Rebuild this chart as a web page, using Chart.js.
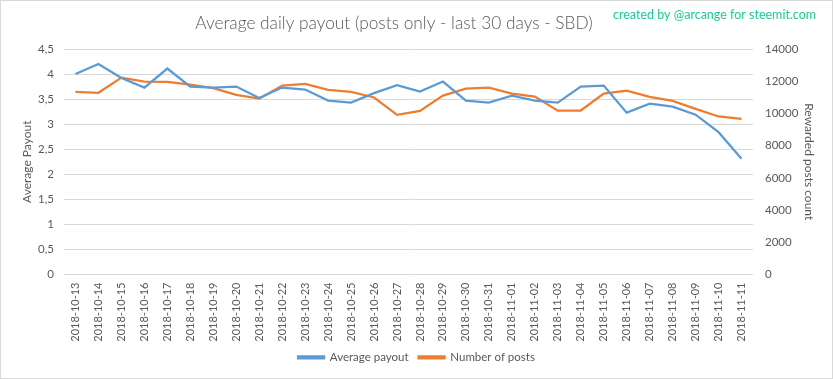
<!DOCTYPE html>
<html>
<head>
<meta charset="utf-8">
<script src="https://cdn.jsdelivr.net/npm/chart.js@4"></script>
<style>
    body { margin: 0; background: #fff; }
    canvas { display: block; }
</style>
</head>
<body>
<canvas id="chart-line" width="833" height="379"></canvas>
<script>
// data
const days = [
    "2018-10-13", "2018-10-14", "2018-10-15", "2018-10-16", "2018-10-17", "2018-10-18",
    "2018-10-19", "2018-10-20", "2018-10-21", "2018-10-22", "2018-10-23", "2018-10-24",
    "2018-10-25", "2018-10-26", "2018-10-27", "2018-10-28", "2018-10-29", "2018-10-30",
    "2018-10-31", "2018-11-01", "2018-11-02", "2018-11-03", "2018-11-04", "2018-11-05",
    "2018-11-06", "2018-11-07", "2018-11-08", "2018-11-09", "2018-11-10", "2018-11-11"
];
const avgPayout = [
    4.00, 4.20, 3.92, 3.73, 4.11, 3.75, 3.73, 3.75, 3.52, 3.73,
    3.69, 3.47, 3.43, 3.62, 3.78, 3.65, 3.85, 3.47, 3.43, 3.57,
    3.47, 3.43, 3.75, 3.77, 3.23, 3.41, 3.35, 3.19, 2.84, 2.31
];
const postCount = [
    11340, 11280, 12220, 11980, 11960, 11790, 11570, 11150, 10920, 11730,
    11830, 11460, 11340, 10990, 9910, 10160, 11110, 11540, 11600, 11230,
    11050, 10170, 10180, 11230, 11420, 11030, 10780, 10280, 9810, 9660
];
const payoutTicks = { min: 0, max: 4.5, step: 0.5 };
const postTicks = { min: 0, max: 14000, step: 2000 };

const textColor = '#595959';
const gridColor = '#d9d9d9';

// background, frame, title and watermark
const decor = {
    id: 'decor',
    beforeDraw(chart) {
        const c = chart.ctx;
        c.save();
        c.fillStyle = '#fff';
        c.fillRect(0, 0, chart.width, chart.height);
        c.strokeStyle = gridColor;
        c.lineWidth = 1;
        c.strokeRect(0.5, 0.5, chart.width - 1, chart.height - 1);
        c.restore();
    },
    afterDraw(chart) {
        const c = chart.ctx;
        c.save();
        c.textBaseline = 'middle';
        c.textAlign = 'center';
        c.fillStyle = textColor;
        c.font = '300 17.3px Lato';
        c.fillText('Average daily payout (posts only - last 30 days - SBD)', 394, 23);
        c.textAlign = 'left';
        c.fillStyle = '#1fc99b';
        c.font = '12.5px Lato';
        c.fillText('created by @arcange for steemit.com', 613, 15);
        c.restore();
    }
};

new Chart(document.getElementById('chart-line'), {
    type: 'line',
    data: {
        labels: days,
        datasets: [{
            label: 'Average payout',
            data: avgPayout,
            yAxisID: 'y',
            borderColor: '#5b9bd5',
            backgroundColor: '#5b9bd5',
            borderWidth: 2.25,
            pointRadius: 0,
            tension: 0
        }, {
            label: 'Number of posts',
            data: postCount,
            yAxisID: 'y1',
            borderColor: '#ed7d31',
            backgroundColor: '#ed7d31',
            borderWidth: 2.25,
            pointRadius: 0,
            tension: 0
        }]
    },
    options: {
        responsive: false,
        animation: false,
        layout: {
            padding: { top: 49, left: 0, right: 0, bottom: 6 }
        },
        plugins: {
            title: { display: false },
            tooltip: { enabled: false },
            legend: {
                position: 'bottom',
                labels: {
                    boxWidth: 26,
                    boxHeight: 2,
                    color: textColor,
                    font: { family: 'Lato', size: 11.5 }
                }
            }
        },
        scales: {
            x: {
                offset: true,
                grid: { display: false, drawTicks: false },
                border: { display: false },
                ticks: {
                    color: textColor,
                    font: { family: 'Lato', size: 11 },
                    minRotation: 90,
                    maxRotation: 90,
                    autoSkip: false,
                    padding: 8
                },
                afterFit(scale) { scale.height = 67; }
            },
            y: {
                position: 'left',
                min: payoutTicks.min,
                max: payoutTicks.max,
                grid: { color: gridColor, drawTicks: false },
                border: { display: false },
                ticks: {
                    stepSize: payoutTicks.step,
                    color: textColor,
                    font: { family: 'Lato', size: 11.5 },
                    padding: 10,
                    callback: (v) => String(v).replace('.', ',')
                },
                title: {
                    display: true,
                    text: 'Average Payout',
                    color: textColor,
                    font: { family: 'Lato', size: 12 },
                    padding: { top: 20, bottom: 0 }
                },
                afterFit(scale) { scale.width = 64; }
            },
            y1: {
                position: 'right',
                min: postTicks.min,
                max: postTicks.max,
                grid: { display: false, drawTicks: false },
                border: { display: false },
                ticks: {
                    stepSize: postTicks.step,
                    color: textColor,
                    font: { family: 'Lato', size: 11.5 },
                    padding: 12,
                    callback: (v) => String(v)
                },
                title: {
                    display: true,
                    text: 'Rewarded posts count',
                    color: textColor,
                    font: { family: 'Lato', size: 12 },
                    padding: { top: 17, bottom: 0 }
                },
                afterFit(scale) { scale.width = 80; }
            }
        }
    },
    plugins: [decor]
});
</script>
</body>
</html>
